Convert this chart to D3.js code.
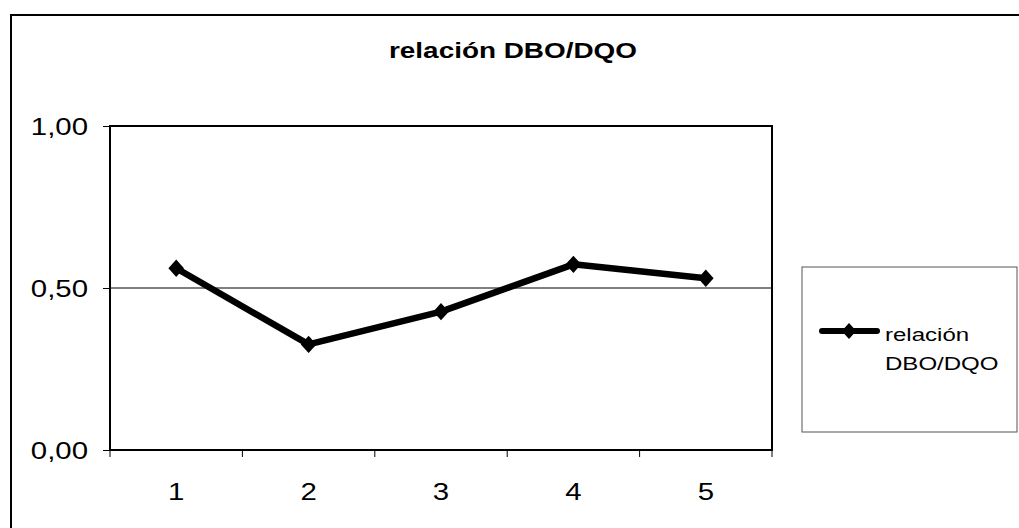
<!DOCTYPE html>
<html><head><meta charset="utf-8">
<script src="https://cdn.jsdelivr.net/npm/d3@7"></script>
<style>body{margin:0;background:#fff;}svg{display:block;font-family:"Liberation Sans",Arial,sans-serif;}</style>
</head><body>
<svg id="c" width="1019" height="528"></svg>
<script>
const categories = ["1","2","3","4","5"];
const values = [0.561, 0.326, 0.427, 0.573, 0.530];
const yTicks = [0, 0.5, 1];
const yTickLabels = ["0,00","0,50","1,00"];
const seriesName = "relación DBO/DQO";
const title = "relación DBO/DQO";

const svg = d3.select("#c");
svg.append("rect").attr("x",11).attr("y",15).attr("width",1030).attr("height",540)
  .attr("fill","#fff").attr("stroke","#000").attr("stroke-width",2);

const L=110,R=772,T=126,B=450;
const x = d3.scaleBand().domain(categories).range([L,R]);
const y = d3.scaleLinear().domain([0,1]).range([B,T]);

// gridline
svg.append("g").selectAll("line").data(yTicks.filter(d=>d>0&&d<1)).join("line")
  .attr("x1",L).attr("x2",R).attr("y1",d=>y(d)).attr("y2",d=>y(d))
  .attr("stroke","#000").attr("stroke-width",1);

// plot frame
svg.append("rect").attr("x",L).attr("y",T).attr("width",R-L).attr("height",B-T)
  .attr("fill","none").attr("stroke","#000").attr("stroke-width",2);

// y axis
const ya = svg.append("g").attr("transform",`translate(${L},0)`)
  .call(d3.axisLeft(y).tickValues(yTicks).tickSize(7).tickFormat(""));
ya.select(".domain").remove();
ya.selectAll(".tick line").attr("stroke","#000");
svg.append("g").selectAll("g").data(yTicks).join("g")
  .attr("transform",d=>`translate(88,${y(d)+9}) scale(1.2,1)`)
  .append("text").attr("text-anchor","end").attr("font-size",24.5).attr("fill","#000")
  .text((d,i)=>yTickLabels[i]);

// x axis ticks at band boundaries
const xa = svg.append("g").attr("transform",`translate(0,${B})`);
const bounds = categories.map(c=>x(c)).concat([x(categories[categories.length-1])+x.bandwidth()]);
xa.selectAll("line").data(bounds).join("line")
  .attr("x1",d=>d).attr("x2",d=>d).attr("y1",0).attr("y2",7).attr("stroke","#000");
xa.selectAll("g").data(categories).join("g")
  .attr("transform",d=>`translate(${x(d)+x.bandwidth()/2},50) scale(1.2,1)`)
  .append("text").attr("text-anchor","middle")
  .attr("font-size",24.5).attr("fill","#000").text(d=>d);

// line
const line = d3.line().x((d,i)=>x(categories[i])+x.bandwidth()/2).y(d=>y(d));
svg.append("path").datum(values).attr("d",line).attr("fill","none")
  .attr("stroke","#000").attr("stroke-width",6.5).attr("stroke-linejoin","round");
svg.append("g").selectAll("path").data(values).join("path")
  .attr("transform",(d,i)=>`translate(${x(categories[i])+x.bandwidth()/2},${y(d)}) scale(0.9,1) rotate(45)`)
  .attr("d",d3.symbol().type(d3.symbolSquare).size(150)).attr("fill","#000");

// title
svg.append("text").attr("x",513).attr("y",58).attr("text-anchor","middle")
  .attr("font-size",22).attr("font-weight","bold").attr("fill","#000")
  .attr("textLength",248).attr("lengthAdjust","spacingAndGlyphs").text(title);

// legend
const lg = svg.append("g");
lg.append("rect").attr("x",802).attr("y",267).attr("width",215).attr("height",165)
  .attr("fill","#fff").attr("stroke","#555").attr("stroke-width",1);
lg.append("line").attr("x1",822).attr("x2",877).attr("y1",331).attr("y2",331)
  .attr("stroke","#000").attr("stroke-width",6).attr("stroke-linecap","round");
lg.append("path").attr("transform","translate(849,331) scale(0.9,1) rotate(45)")
  .attr("d",d3.symbol().type(d3.symbolSquare).size(130)).attr("fill","#000");
const words = seriesName.split(" ");
lg.selectAll("g").data(words).join("g")
  .attr("transform",(d,i)=>`translate(885,${341+i*29}) scale(1.3,1)`)
  .append("text").attr("font-size",18.5).attr("fill","#000").text(d=>d);
</script>
</body></html>
